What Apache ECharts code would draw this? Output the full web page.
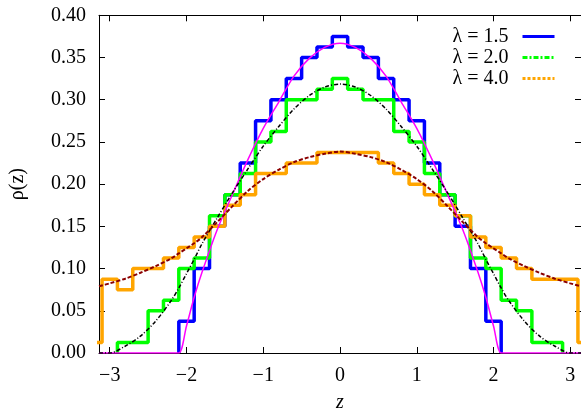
<!DOCTYPE html>
<html>
<head>
<meta charset="utf-8">
<script src="https://cdn.jsdelivr.net/npm/echarts@6/dist/echarts.min.js"></script>
<style>
  html, body { margin: 0; padding: 0; background: #fff; }
  #chart { width: 581px; height: 418px; }
</style>
</head>
<body>
<div id="chart"></div>
<script>
// histogram bins (centres), bin width 0.2
var binCenters = [-3.2, -3.0, -2.8, -2.6, -2.4, -2.2, -2.0, -1.8, -1.6, -1.4, -1.2, -1.0, -0.8, -0.6, -0.4, -0.2, 0,
                  0.2, 0.4, 0.6, 0.8, 1.0, 1.2, 1.4, 1.6, 1.8, 2.0, 2.2, 2.4, 2.6, 2.8, 3.0, 3.2];
var hist15 = [0, 0, 0, 0, 0, 0, 0.0375, 0.1, 0.15, 0.1875, 0.225, 0.275, 0.3, 0.325, 0.35, 0.3625, 0.375,
              0.3625, 0.35, 0.325, 0.3, 0.275, 0.225, 0.1875, 0.15, 0.1, 0.0375, 0, 0, 0, 0, 0, 0];
var hist20 = [0, 0, 0.0125, 0.0125, 0.05, 0.0625, 0.1, 0.1125, 0.1625, 0.1875, 0.2125, 0.25, 0.2625, 0.3, 0.3, 0.3125, 0.325,
              0.3125, 0.3, 0.3, 0.2625, 0.25, 0.2125, 0.1875, 0.1625, 0.1125, 0.1, 0.0625, 0.05, 0.0125, 0.0125, 0, 0];
var hist40 = [0.0125, 0.0875, 0.075, 0.1, 0.1, 0.1125, 0.125, 0.1375, 0.15, 0.175, 0.1875, 0.2125, 0.2125, 0.225, 0.225, 0.2375, 0.2375,
              0.2375, 0.2375, 0.225, 0.2125, 0.2, 0.1875, 0.175, 0.1625, 0.1375, 0.125, 0.1125, 0.1, 0.0875, 0.0875, 0.0875, 0.0125];

// theory curves
var curveZ = [-3.14, -3.0, -2.8, -2.6, -2.4, -2.2, -2.1, -2.0, -1.9, -1.8, -1.6, -1.4, -1.2, -1.0, -0.8, -0.6, -0.4, -0.2, 0,
              0.2, 0.4, 0.6, 0.8, 1.0, 1.2, 1.4, 1.6, 1.8, 1.9, 2.0, 2.1, 2.2, 2.4, 2.6, 2.8, 3.0, 3.14];
var rho15 = [0, 0, 0, 0, 0, 0, 0, 0.032, 0.066, 0.095, 0.146, 0.188, 0.229, 0.266, 0.297, 0.328, 0.349, 0.362, 0.367,
             0.362, 0.349, 0.328, 0.297, 0.266, 0.229, 0.188, 0.146, 0.095, 0.066, 0.032, 0, 0, 0, 0, 0, 0, 0];
var rho20 = [0, 0, 0.008, 0.02, 0.038, 0.062, 0.077, 0.094, 0.111, 0.129, 0.16, 0.19, 0.218, 0.245, 0.268, 0.289, 0.305, 0.315, 0.3185,
             0.315, 0.305, 0.289, 0.268, 0.245, 0.218, 0.19, 0.16, 0.129, 0.111, 0.094, 0.077, 0.062, 0.038, 0.02, 0.008, 0, 0];
var rho40 = [0.079, 0.0825, 0.088, 0.095, 0.103, 0.112, 0.118, 0.124, 0.130, 0.137, 0.155, 0.174, 0.192, 0.206, 0.217, 0.226, 0.232, 0.236, 0.2386,
             0.236, 0.232, 0.226, 0.217, 0.206, 0.192, 0.174, 0.155, 0.137, 0.130, 0.124, 0.118, 0.112, 0.103, 0.095, 0.088, 0.0825, 0.079];

var xTicks = [-3, -2, -1, 0, 1, 2, 3];
var legendNames = ['λ = 1.5', 'λ = 2.0', 'λ = 4.0'];

var FONT = "'Liberation Serif', 'Times New Roman', serif";
var HALF = 0.1;

// histogram -> step points from the first to the last filled bin
function stepData(values) {
  var i0 = 0, i1 = values.length - 1;
  while (values[i0] === 0) i0++;
  while (values[i1] === 0) i1--;
  var pts = [[+(binCenters[i0] - HALF).toFixed(2), 0]];
  for (var i = i0; i <= i1; i++) {
    pts.push([+(binCenters[i] + HALF).toFixed(2), values[i]]);
  }
  pts.push([+(binCenters[i1] + HALF).toFixed(2), 0]);
  return pts;
}

function curveData(values) {
  return curveZ.map(function (z, i) { return [z, values[i]]; });
}

function histSeries(name, color, values) {
  return {
    name: name, type: 'line', step: 'start',
    data: stepData(values),
    symbol: 'none', silent: true,
    lineStyle: { color: color, width: 3.5 },
    itemStyle: { color: color }
  };
}

function curveSeries(color, width, type, values) {
  return {
    type: 'line', smooth: 0.3,
    data: curveData(values),
    symbol: 'none', silent: true,
    lineStyle: { color: color, width: width, type: type }
  };
}

var chart = echarts.init(document.getElementById('chart'));

var axisLine = { onZero: false, lineStyle: { color: '#000', width: 1 } };

chart.setOption({
  animation: false,
  backgroundColor: '#fff',
  grid: { left: 90.7, top: 15.3, width: 492.4, height: 350.4 },
  legend: {
    orient: 'vertical', right: 20, top: 21,
    align: 'right', itemWidth: 32, itemHeight: 14, itemGap: 0,
    selectedMode: false,
    itemStyle: { opacity: 0 },
    textStyle: { fontFamily: FONT, fontSize: 20, lineHeight: 21, color: '#000', padding: [0, 9, 0, 0] },
    data: [
      { name: legendNames[0], lineStyle: { type: 'solid', width: 3 } },
      { name: legendNames[1], lineStyle: { type: [5, 2, 2, 2], width: 3 } },
      { name: legendNames[2], lineStyle: { type: [3, 2], width: 3 } }
    ]
  },
  xAxis: [
    {
      type: 'value', min: -3.14, max: 3.14, position: 'bottom',
      name: 'z', nameLocation: 'middle', nameGap: 40,
      nameTextStyle: { fontFamily: FONT, fontSize: 20, fontStyle: 'italic', color: '#000' },
      axisLine: axisLine, splitLine: { show: false },
      axisTick: { inside: true, length: 6, customValues: xTicks, lineStyle: { color: '#000' } },
      axisLabel: {
        customValues: xTicks, margin: 13,
        fontFamily: FONT, fontSize: 20, color: '#000',
        formatter: function (v) { return String(v).replace('-', '\u2212'); }
      }
    },
    {
      type: 'value', min: -3.14, max: 3.14, position: 'top',
      axisLine: axisLine, splitLine: { show: false },
      axisTick: { inside: true, length: 6, customValues: xTicks, lineStyle: { color: '#000' } },
      axisLabel: { show: false }
    }
  ],
  yAxis: [
    {
      type: 'value', min: 0, max: 0.4, interval: 0.05, position: 'left',
      name: 'ρ(z)', nameLocation: 'middle', nameGap: 71,
      nameTextStyle: { fontFamily: FONT, fontSize: 20, color: '#000' },
      axisLine: axisLine, splitLine: { show: false },
      axisTick: { inside: true, length: 6, lineStyle: { color: '#000' } },
      axisLabel: {
        margin: 13, fontFamily: FONT, fontSize: 20, color: '#000',
        formatter: function (v) { return v.toFixed(2); }
      }
    },
    {
      type: 'value', min: 0, max: 0.4, interval: 0.05, position: 'right',
      axisLine: axisLine, splitLine: { show: false },
      axisTick: { inside: true, length: 6, lineStyle: { color: '#000' } },
      axisLabel: { show: false }
    }
  ],
  series: [
    histSeries(legendNames[0], '#0000ff', hist15),
    histSeries(legendNames[1], '#00ff00', hist20),
    histSeries(legendNames[2], '#ffa500', hist40),
    curveSeries('#ff00ff', 1.5, 'solid', rho15),
    curveSeries('#000000', 1.5, [4, 2, 1, 2], rho20),
    curveSeries('#8b0000', 2, [4, 2], rho40)
  ]
});
</script>
</body>
</html>
